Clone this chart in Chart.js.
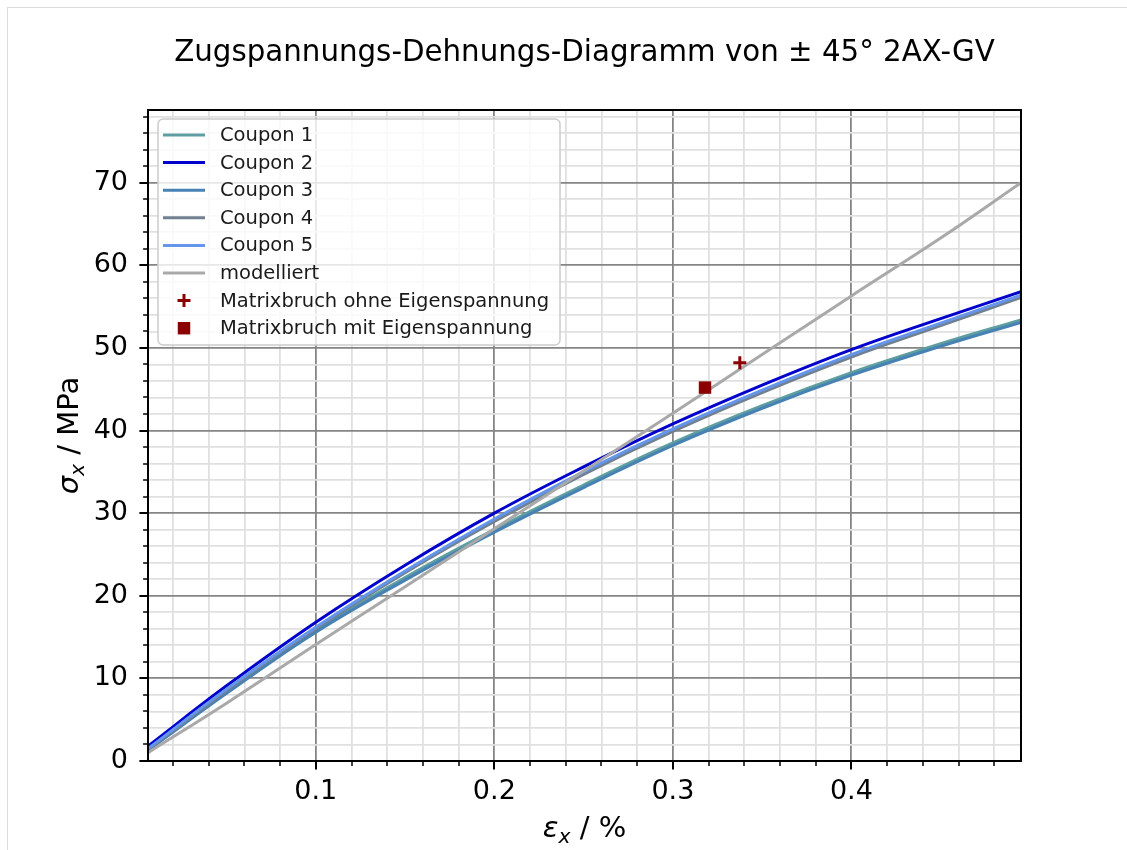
<!DOCTYPE html>
<html>
<head>
<meta charset="utf-8">
<script src="https://cdn.jsdelivr.net/npm/chart.js@4.4.0/dist/chart.umd.min.js"></script>
<style>
  html, body { margin: 0; padding: 0; background: #fff; }
  #frame { position: absolute; left: 7px; top: 7px; width: 1200px; height: 1000px; border-left: 1px solid #dcdcdc; border-top: 1px solid #dcdcdc; }
  #wrap { position: absolute; left: 0; top: 0; width: 1127px; height: 850px; }
</style>
</head>
<body>
<div id="frame"></div>
<div id="wrap"><canvas id="chart" width="1127" height="850"></canvas></div>
<script>
// Zugspannungs-Dehnungs-Diagramm, ±45° 2AX-GV

// Dehnung (%) der Stützstellen
const strain = [0.006, 0.05, 0.1, 0.15, 0.2, 0.25, 0.3, 0.35, 0.4, 0.45, 0.495];

// Spannung (MPa) je Coupon
const coupon1 = [1.4, 8.4, 15.8, 22.2, 28.0, 33.4, 38.5, 43.0, 47.0, 50.5, 53.4];
const coupon2 = [1.8, 9.1, 16.8, 23.7, 30.0, 35.6, 40.8, 45.5, 49.8, 53.55, 56.8];
const coupon3 = [1.3, 8.2, 15.6, 21.9, 27.7, 33.1, 38.2, 42.7, 46.7, 50.2, 53.1];
const coupon4 = [1.4, 8.5, 16.0, 22.8, 29.0, 34.7, 39.9, 44.6, 48.9, 52.7, 56.1];
const coupon5 = [1.5, 8.7, 16.2, 23.0, 29.3, 35.0, 40.2, 44.9, 49.2, 53.0, 56.4];
const modell  = [1.0, 7.0, 14.1, 21.1, 28.1, 35.1, 42.1, 49.2, 56.3, 63.3, 70.0];

// Matrixbruch-Punkte
const ohneEigX = [0.3375];
const ohneEigY = [48.2];
const mitEigX = [0.318];
const mitEigY = [45.2];

// Achsen
const xRange = [0.006, 0.495];
const yRange = [0, 78.8];
const xMajorTicks = [0.1, 0.2, 0.3, 0.4];
const yMajorTicks = [0, 10, 20, 30, 40, 50, 60, 70];
const xMinorStep = 0.02;
const yMinorStep = 2;

const FONT = "'DejaVu Sans', 'Liberation Sans', sans-serif";

const pts = (xs, ys) => xs.map((x, i) => ({ x, y: ys[i] }));
const isMajor = (list, v) => list.some(t => Math.abs(t - v) < 1e-9);

const curves = [
  { label: 'Coupon 1', data: coupon1, color: '#5F9EA0' },
  { label: 'Coupon 2', data: coupon2, color: '#0000CD' },
  { label: 'Coupon 3', data: coupon3, color: '#4682B4' },
  { label: 'Coupon 4', data: coupon4, color: '#708090' },
  { label: 'Coupon 5', data: coupon5, color: '#6495ED' },
  { label: 'modelliert', data: modell, color: '#A9A9A9' },
];

// matplotlib zeichnet spätere Serien oben -> order absteigend
const datasets = curves.map((c, i) => ({
  type: 'line',
  label: c.label,
  data: pts(strain, c.data),
  borderColor: c.color,
  borderWidth: 3,
  pointRadius: 0,
  tension: 0.4,
  order: 20 - i,
}));

datasets.push({
  type: 'scatter',
  label: 'Matrixbruch ohne Eigenspannung',
  data: pts(ohneEigX, ohneEigY),
  pointStyle: 'cross',
  pointRadius: 6.5,
  pointBorderWidth: 3,
  borderColor: '#8B0000',
  backgroundColor: '#8B0000',
  order: 2,
});
datasets.push({
  type: 'scatter',
  label: 'Matrixbruch mit Eigenspannung',
  data: pts(mitEigX, mitEigY),
  pointStyle: 'rect',
  pointRadius: 8.8,
  pointBorderWidth: 0,
  borderColor: '#8B0000',
  backgroundColor: '#8B0000',
  order: 1,
});

function minorTicks(range, step) {
  const out = [];
  const first = Math.ceil(range[0] / step - 1e-9);
  const last = Math.floor(range[1] / step + 1e-9);
  for (let i = first; i <= last; i++) out.push({ value: Math.round(i * step * 1e6) / 1e6 });
  return out;
}

function roundRectPath(ctx, x, y, w, h, r) {
  ctx.beginPath();
  ctx.moveTo(x + r, y);
  ctx.arcTo(x + w, y, x + w, y + h, r);
  ctx.arcTo(x + w, y + h, x, y + h, r);
  ctx.arcTo(x, y + h, x, y, r);
  ctx.arcTo(x, y, x + w, y, r);
  ctx.closePath();
}

// Text mit kursivem Formelzeichen und tiefgestelltem Index
function drawMathLabel(ctx, parts, cx, baseline) {
  const widths = parts.map(p => { ctx.font = p.font; return ctx.measureText(p.t).width; });
  const total = widths.reduce((s, w) => s + w, 0);
  let x = cx - total / 2;
  ctx.textAlign = 'left';
  ctx.textBaseline = 'alphabetic';
  parts.forEach((p, i) => {
    ctx.font = p.font;
    ctx.fillText(p.t, x, baseline + (p.dy || 0));
    x += widths[i];
  });
}

function drawLegend(chart) {
  const { ctx, chartArea: a } = chart;
  const box = { x: a.left + 10, y: a.top + 9, w: 402, h: 226 };
  ctx.fillStyle = 'rgba(255,255,255,0.8)';
  ctx.strokeStyle = '#cccccc';
  ctx.lineWidth = 1.5;
  roundRectPath(ctx, box.x, box.y, box.w, box.h, 5);
  ctx.fill();
  ctx.stroke();

  ctx.font = '19.5px ' + FONT;
  ctx.textAlign = 'left';
  ctx.textBaseline = 'middle';
  chart.data.datasets.forEach((ds, i) => {
    const cy = box.y + 16 + i * 27.6;
    const hx = box.x + 26;
    if (ds.type === 'scatter') {
      ctx.fillStyle = ds.backgroundColor;
      ctx.strokeStyle = ds.borderColor;
      if (ds.pointStyle === 'cross') {
        const r = ds.pointRadius;
        ctx.lineWidth = ds.pointBorderWidth;
        ctx.beginPath();
        ctx.moveTo(hx - r, cy); ctx.lineTo(hx + r, cy);
        ctx.moveTo(hx, cy - r); ctx.lineTo(hx, cy + r);
        ctx.stroke();
      } else {
        const s = ds.pointRadius * Math.SQRT1_2;
        ctx.fillRect(hx - s, cy - s, 2 * s, 2 * s);
      }
    } else {
      ctx.strokeStyle = ds.borderColor;
      ctx.lineWidth = ds.borderWidth;
      ctx.beginPath();
      ctx.moveTo(box.x + 5, cy);
      ctx.lineTo(box.x + 47, cy);
      ctx.stroke();
    }
    ctx.fillStyle = '#1a1a1a';
    ctx.fillText(ds.label, box.x + 62, cy + 1);
  });
}

const mplLook = {
  id: 'mplLook',
  afterDatasetsDraw(chart) {
    const { ctx, chartArea: a, scales: { x, y } } = chart;
    ctx.save();
    ctx.strokeStyle = '#000';
    // Tick-Striche außen
    x.ticks.forEach(t => {
      const px = Math.round(x.getPixelForValue(t.value));
      const major = isMajor(xMajorTicks, t.value);
      ctx.lineWidth = major ? 2 : 1.5;
      ctx.beginPath();
      ctx.moveTo(px, a.bottom);
      ctx.lineTo(px, a.bottom + (major ? 8.6 : 4.9));
      ctx.stroke();
    });
    y.ticks.forEach(t => {
      const py = Math.round(y.getPixelForValue(t.value));
      const major = isMajor(yMajorTicks, t.value);
      ctx.lineWidth = major ? 2 : 1.5;
      ctx.beginPath();
      ctx.moveTo(a.left, py);
      ctx.lineTo(a.left - (major ? 8.6 : 4.9), py);
      ctx.stroke();
    });
    // Rahmen
    ctx.lineWidth = 2;
    ctx.strokeRect(a.left, a.top, a.right - a.left, a.bottom - a.top);

    drawLegend(chart);

    // Titel und Achsenbeschriftungen
    ctx.fillStyle = '#000';
    ctx.font = '29.3px ' + FONT;
    ctx.textAlign = 'center';
    ctx.textBaseline = 'alphabetic';
    const cx = (a.left + a.right) / 2;
    ctx.fillText('Zugspannungs-Dehnungs-Diagramm von ± 45° 2AX-GV', cx, 61);

    drawMathLabel(ctx, [
      { t: 'ε', font: 'italic 29px ' + FONT },
      { t: 'x', font: 'italic 20.3px ' + FONT, dy: 6 },
      { t: ' / %', font: '29px ' + FONT },
    ], cx, 837);

    ctx.save();
    ctx.translate(78, (a.top + a.bottom) / 2);
    ctx.rotate(-Math.PI / 2);
    drawMathLabel(ctx, [
      { t: 'σ', font: 'italic 29px ' + FONT },
      { t: 'x', font: 'italic 20.3px ' + FONT, dy: 6 },
      { t: ' / MPa', font: '29px ' + FONT },
    ], 0, 0);
    ctx.restore();
    ctx.restore();
  }
};

new Chart(document.getElementById('chart'), {
  data: { datasets },
  plugins: [mplLook],
  options: {
    responsive: false,
    animation: false,
    devicePixelRatio: 1,
    layout: { padding: { left: 48, top: 110, right: 106, bottom: 29 } },
    plugins: {
      legend: { display: false },
      title: { display: false },
      tooltip: { enabled: false },
    },
    scales: {
      x: {
        type: 'linear',
        min: xRange[0],
        max: xRange[1],
        afterBuildTicks: s => { s.ticks = minorTicks(xRange, xMinorStep); },
        afterFit: s => { s.height = 60; },
        border: { display: false },
        grid: {
          drawTicks: false,
          lineWidth: 1.8,
          color: c => isMajor(xMajorTicks, c.tick.value) ? '#858585' : '#e0e0e0',
        },
        ticks: {
          autoSkip: false,
          maxRotation: 0,
          minRotation: 0,
          padding: 15,
          color: '#000',
          font: { family: FONT, size: 27 },
          callback: v => isMajor(xMajorTicks, v) ? String(v) : '',
        },
      },
      y: {
        type: 'linear',
        min: yRange[0],
        max: yRange[1],
        afterBuildTicks: s => { s.ticks = minorTicks(yRange, yMinorStep); },
        afterFit: s => { s.width = 100; },
        border: { display: false },
        grid: {
          drawTicks: false,
          lineWidth: 1.8,
          color: c => isMajor(yMajorTicks, c.tick.value) ? '#858585' : '#e0e0e0',
        },
        ticks: {
          autoSkip: false,
          padding: 20,
          color: '#000',
          font: { family: FONT, size: 27 },
          callback: v => isMajor(yMajorTicks, v) ? String(v) : '',
        },
      },
    },
  },
});
</script>
</body>
</html>
